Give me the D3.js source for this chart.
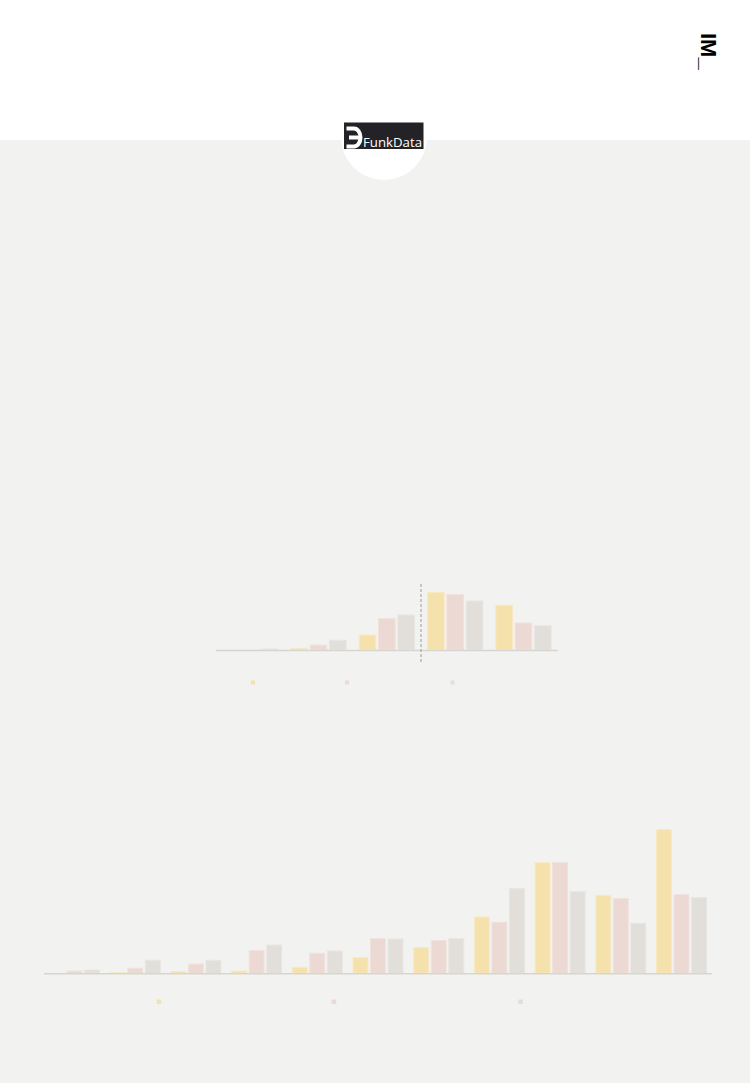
<!DOCTYPE html>
<html><head><meta charset="utf-8">
<script src="https://cdn.jsdelivr.net/npm/d3@7"></script>
<style>html,body{margin:0;padding:0;background:#f2f2f0;}svg{display:block;}</style>
</head><body>
<svg id="c" width="750" height="1083"></svg>
<script>
// ---- data ----
const series = ["s1", "s2", "s3"];
const colors = ["#f5e1ab", "#ecd9d3", "#e2dfda"];
const strokes = ["#f7e9c3", "#f0e2dd", "#e8e6e2"];

const cats1 = ["c1", "c2", "c3", "c4", "c5"];
const s1a = [0, 1.7, 15, 57.7, 44.7];
const s2a = [0, 5, 31.3, 55.3, 27];
const s3a = [1, 9.7, 35, 49, 24.3];

const cats2 = ["k1","k2","k3","k4","k5","k6","k7","k8","k9","k10","k11"];
const s1b = [0, 0.7, 1.7, 2.3, 6, 15.7, 25.7, 56.3, 110.7, 78, 143.7];
const s2b = [2.3, 5, 9.3, 22.7, 20, 34.7, 32.7, 51, 110.7, 74.7, 78.7];
const s3b = [3.3, 13, 13, 28.3, 22.3, 34.3, 34.7, 84.7, 81.7, 50, 75.7];

const svg = d3.select("#c");
// header
svg.append("rect").attr("x",0).attr("y",0).attr("width",750).attr("height",140).attr("fill","#ffffff");
svg.append("rect").attr("x",0).attr("y",140).attr("width",750).attr("height",943).attr("fill","#f2f2f0");
svg.append("circle").attr("cx",384).attr("cy",137).attr("r",43).attr("fill","#ffffff");
// logo
svg.append("rect").attr("x",344).attr("y",122.5).attr("width",79.5).attr("height",26.5).attr("fill","#232327");
svg.append("path").attr("d","M346.5,128.5 H354 A6.5,9 0 0 1 354,146.5 H346.5 M349,137.5 H360")
  .attr("fill","none").attr("stroke","#fff").attr("stroke-width",4);
svg.append("text").attr("x",363).attr("y",146.5).attr("fill","#fff")
  .attr("font-family","'Open Sans', 'Noto Sans', sans-serif").attr("font-size",13.5)
  .attr("textLength",59).attr("lengthAdjust","spacingAndGlyphs").text("FunkData");
// IM_
svg.append("text").attr("transform","translate(701,33) rotate(90)")
  .attr("font-family","'Liberation Sans', Arial, sans-serif").attr("font-weight","bold")
  .attr("font-size",22).attr("fill","#000").text("IM_");

function chart(cats, vals, x0, x1, base, yTop, yMax, inner, padIn){
  const x = d3.scaleBand().domain(cats).range([x0,x1]).padding(0);
  const xs = d3.scaleBand().domain(series).range(inner).paddingInner(padIn);
  const y = d3.scaleLinear().domain([0,yMax]).range([base,yTop]);
  const g = svg.append("g");
  cats.forEach((c,i)=>{
    series.forEach((s,j)=>{
      const v = vals[j][i];
      if (v<=0) return;
      g.append("rect").attr("x",x(c)+xs(s)).attr("y",y(v))
        .attr("width",xs.bandwidth()).attr("height",y(0)-y(v))
        .attr("fill",colors[j]).attr("stroke",strokes[j]).attr("stroke-width",1);
    });
  });
  g.append("line").attr("x1",x0).attr("x2",x1).attr("y1",base+0.5).attr("y2",base+0.5)
    .attr("stroke","#d5d5d2").attr("stroke-width",1.5);
  return {x,y};
}

const c1 = chart(cats1,[s1a,s2a,s3a],216,557.7,650,584,66,[6.5,61.8],0.14);
svg.append("line").attr("x1",c1.x(cats1[3])).attr("x2",c1.x(cats1[3]))
  .attr("y1",584).attr("y2",663).attr("stroke","#9a9a98").attr("stroke-width",1).attr("stroke-dasharray","3,2");
const leg1 = [251,345,450.5];
series.forEach((s,j)=>svg.append("rect").attr("x",leg1[j]).attr("y",680.5).attr("width",4).attr("height",4).attr("fill",colors[j]));

chart(cats2,[s1b,s2b,s3b],44,711.7,973.3,823.3,150,[5.5,55.5],0.15);
const leg2 = [156.7,331.7,518.3];
series.forEach((s,j)=>svg.append("rect").attr("x",leg2[j]).attr("y",999.5).attr("width",4.5).attr("height",4.5).attr("fill",colors[j]));
</script>
</body></html>
